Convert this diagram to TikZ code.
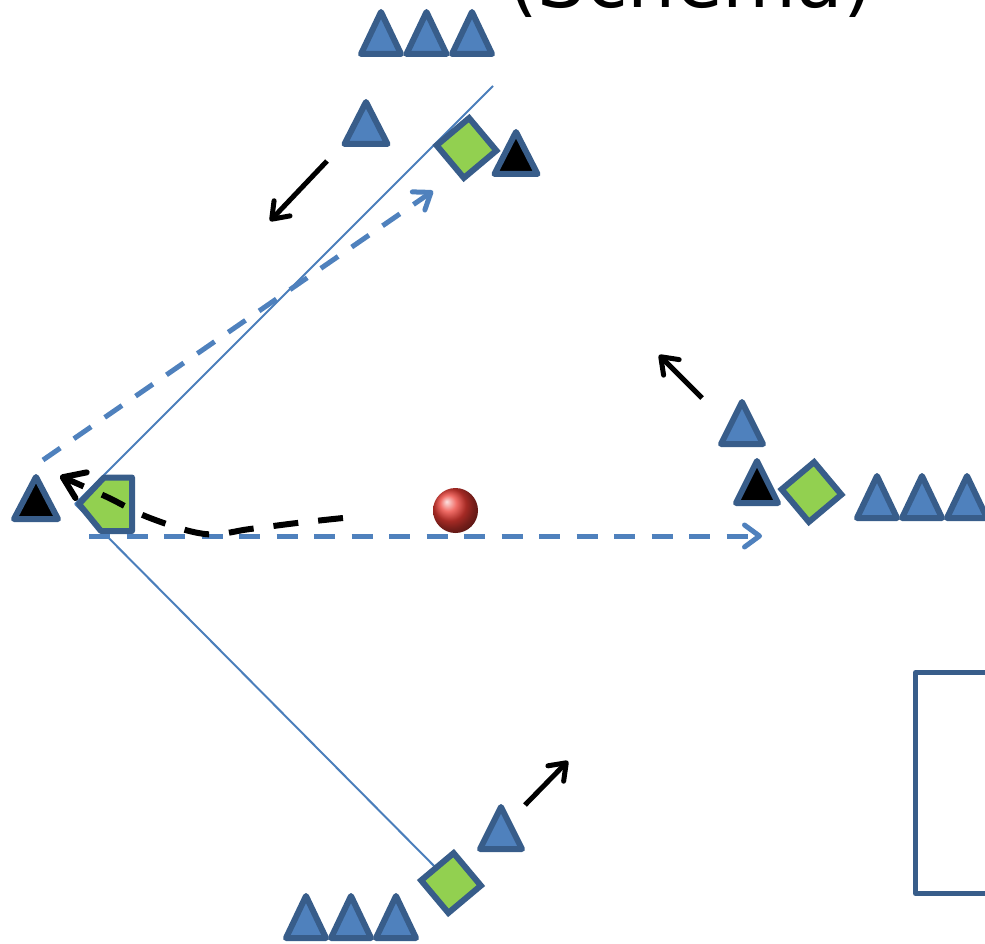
\documentclass[tikz,border=0pt]{standalone}
\usepackage{fontspec}
\newfontfamily\titlefont{DejaVu Sans}
\usetikzlibrary{arrows.meta}

\definecolor{pblue}{HTML}{4F81BD}
\definecolor{pedge}{HTML}{385D8A}
\definecolor{pgreen}{HTML}{92D050}
\definecolor{pline}{HTML}{4A7EBB}
\definecolor{pball}{RGB}{235,60,52}

\tikzset{
  token/.style={draw=pedge, line width=6pt, line join=round},
  bluetok/.style={token, fill=pblue},
  blacktok/.style={token, fill=black},
  greentok/.style={draw=pedge, line width=6pt, line join=miter, fill=pgreen},
  pitchline/.style={draw=pline, line width=2pt},
  tipsmall/.style={-{Straight Barb[length=15pt,width=22pt,round]}},
  pass/.style={draw=pblue, line width=5pt, dash pattern=on 21pt off 16.5pt, tipsmall},
  move/.style={draw=black, line width=5pt, tipsmall},
  run/.style={draw=black, line width=6pt, dash pattern=on 25pt off 20pt,
              -{Straight Barb[length=20pt,width=28pt,round]}},
  % triangle token: origin = apex x, outer base y; args = style, half base width
  pics/tri/.style 2 args={code={\path[#1] (-#2,-3) -- (0,-45) -- (#2,-3) -- cycle;}},
  % diamond token: origin = centre
  pics/diamond/.style={code={\path[greentok, rotate=-5]
      (0,-30) -- (30,0) -- (0,30) -- (-30,0) -- cycle;}},
}

\begin{document}
\begin{tikzpicture}[x=1pt, y=-1pt]
\useasboundingbox (0,0) rectangle (985,944);
\clip (0,0) rectangle (985,944);

% title, mostly above the frame
\node[font=\titlefont\fontsize{76}{82}\selectfont, anchor=base west, inner sep=0]
  (title) at (508,8) {(Schema)};

% key points
\coordinate (origin) at (75,504);
\coordinate (topend) at (493,86);
\coordinate (diaT) at (466.5,148);
\coordinate (diaR) at (811.5,492);
\coordinate (diaB) at (451,883);

% passing lanes
\draw[pitchline] (origin) -- (topend);
\draw[pitchline] (origin) -- (diaB);

% box at the right
\draw[draw=pedge, line width=5pt, line join=round] (1000,672.5) -- (915.5,672.5) -- (915.5,893.5) -- (1000,893.5);

% top group
\pic at (381,57) {tri={bluetok}{20}};
\pic at (426.5,57) {tri={bluetok}{20}};
\pic at (472,57) {tri={bluetok}{20}};
\pic at (366,147) {tri={bluetok}{21.5}};
\pic at (diaT) {diamond};
\pic at (516,177) {tri={blacktok}{21.5}};

% right group
\pic at (742,447) {tri={bluetok}{21}};
\pic at (757,506) {tri={blacktok}{21}};
\pic at (diaR) {diamond};
\pic at (877,521) {tri={bluetok}{20}};
\pic at (922,521) {tri={bluetok}{20}};
\pic at (967,521) {tri={bluetok}{20}};

% bottom group
\pic at (501,852) {tri={bluetok}{21}};
\pic at (diaB) {diamond};
\pic at (306,941) {tri={bluetok}{20}};
\pic at (351,941) {tri={bluetok}{20}};
\pic at (396,941) {tri={bluetok}{20}};

% left group
\pic at (36,522) {tri={blacktok}{22}};
\path[greentok, line join=round] (79,504) -- (104,477.5) -- (132,477.5) -- (132,531) -- (101,531) -- cycle;

% passes
\coordinate (passA0) at (89,536);
\coordinate (passA1) at (762,536);
\coordinate (passB0) at (43,460);
\coordinate (passB1) at (433,191);
\draw[pass] (passA0) -- (passA1);
\draw[pass] (passB0) -- (passB1);

% run of the left player
\draw[run] plot[smooth, tension=0.6] coordinates
  {(343,518) (297,523) (250,529) (205,534) (150,518) (107,497) (60,476)};

% player movements
\coordinate (mvA0) at (327,161);
\coordinate (mvA1) at (270,221);
\coordinate (mvB0) at (702,398);
\coordinate (mvB1) at (659,355);
\coordinate (mvC0) at (525,805);
\coordinate (mvC1) at (568,761);
\draw[move] (mvA0) -- (mvA1);
\draw[move] (mvB0) -- (mvB1);
\draw[move] (mvC0) -- (mvC1);

% ball
\node[circle, inner sep=0, minimum size=45pt, shading=ball, ball color=pball] (ball) at (455.5,510.5) {};
\end{tikzpicture}
\end{document}
